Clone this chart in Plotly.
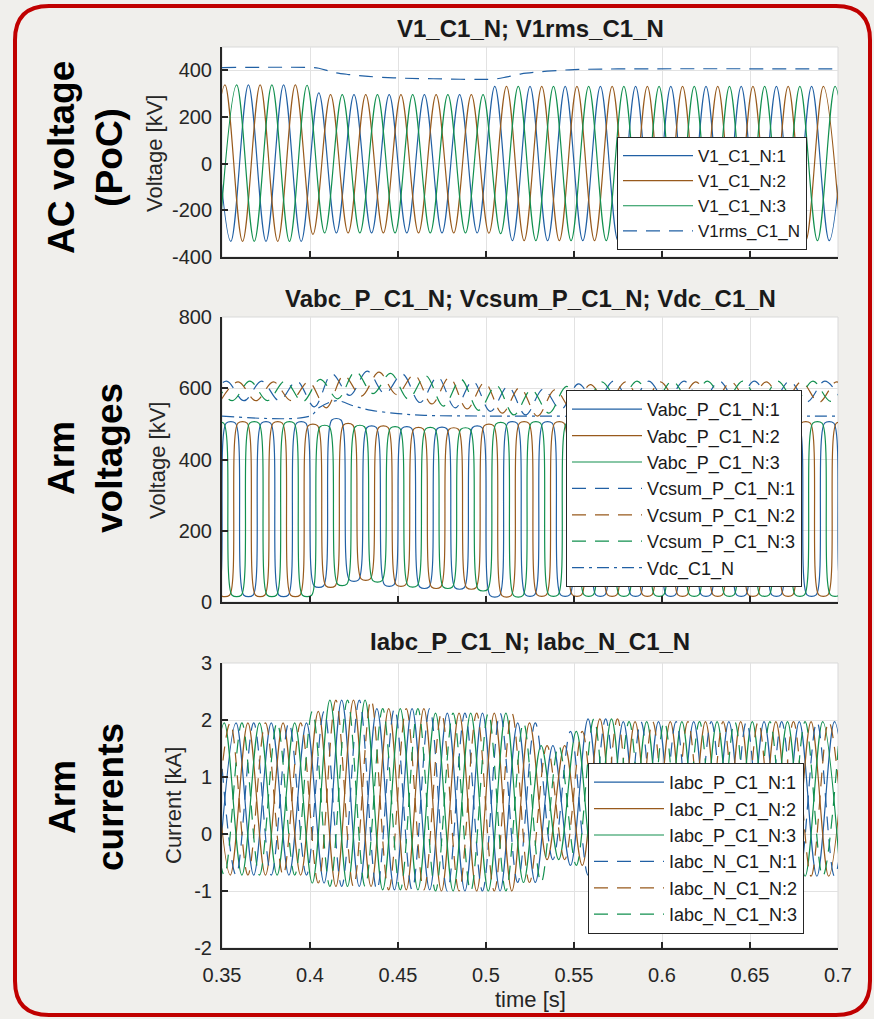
import plotly.graph_objects as go

# ---------------- data ----------------
HALF = 0.01  # half period of the 50 Hz waveforms [s]

# AC voltage at PoC: extremum values, one per half cycle, starting at T0
V1_T0 = [0.345, 0.34167, 0.34833]
V1_1 = [338, -333, 338, -333, 338, -333,
        303, -297, 296, -297, 296, -297, 296, -297, 296, -297,
        331, -330, 331, -330, 331, -330, 331, -330, 331, -330, 331,
        -330, 331, -330, 331, -330, 331, -330, 331, -330, 331]
V1_2 = [-333, 338, -333, 338, -333, 338,
        -303, 296, -297, 296, -297, 296, -297, 296, -297, 296,
        -298, 331, -330, 331, -330, 331, -330, 331, -330, 331, -330,
        331, -330, 331, -330, 331, -330, 331, -330, 331, -330]
V1_3 = [-333, 338, -333, 338, -333, 336,
        -297, 296, -297, 296, -297, 296, -297, 296, -297, 296,
        -300, 331, -330, 331, -330, 331, -330, 331, -330, 331, -330,
        331, -330, 331, -330, 331, -330, 331, -330, 331, -330]
RMS_T = [0.35, 0.40, 0.405, 0.413, 0.422, 0.433, 0.45, 0.47, 0.505, 0.512,
         0.52, 0.528, 0.54, 0.55, 0.575, 0.70]
RMS_V = [412, 412, 409, 392, 382, 374, 367, 364, 363, 372,
         385, 392, 399, 403, 406, 406]

# Arm voltages (upper arm), extremum (plateau) values per half cycle
VABC_T0 = [0.345, 0.34167, 0.34833]
VABC_1 = [19, 502, 19, 502, 19, 502,
          45, 511, 62, 490, 48, 488, 42, 487, 40, 490,
          18, 502, 20, 502, 20, 502, 20, 502, 20, 502, 20,
          502, 20, 502, 20, 502, 20, 502, 20, 502, 20]
VABC_2 = [502, 19, 502, 19, 502, 19,
          495, 45, 497, 65, 490, 48, 486, 42, 485, 40,
          495, 18, 502, 20, 502, 20, 502, 20, 502, 20, 502,
          20, 502, 20, 502, 20, 502, 20, 502, 20, 502]
VABC_3 = [502, 19, 502, 19, 502, 19,
          492, 50, 492, 60, 488, 46, 486, 42, 485, 35,
          500, 18, 502, 20, 502, 20, 502, 20, 502, 20, 502,
          20, 502, 20, 502, 20, 502, 20, 502, 20, 502]
VCSUM_T0 = [0.3425, 0.3492, 0.3458]
VCSUM_1 = [565, 620, 565, 620, 565, 620,
           548, 640, 580, 648, 585, 640, 560, 632, 545, 620,
           535, 605, 525, 598, 540, 612, 560, 620, 562, 620, 562,
           620, 562, 620, 562, 620, 562, 620, 562, 620, 562]
VCSUM_2 = [565, 618, 565, 618, 565, 618,
           545, 636, 578, 645, 582, 638, 556, 630, 542, 616,
           530, 602, 522, 596, 538, 610, 558, 618, 560, 618, 560,
           618, 560, 618, 560, 618, 560, 618, 560, 618, 560]
VCSUM_3 = [620, 565, 620, 565, 620, 562,
           625, 570, 647, 585, 642, 570, 635, 550, 625, 538,
           608, 525, 596, 530, 605, 552, 618, 563, 620, 563, 620,
           563, 620, 563, 620, 563, 620, 563, 620, 563, 620]
VDC_T = [0.35, 0.40, 0.405, 0.415, 0.425, 0.435, 0.45, 0.465, 0.50, 0.70]
VDC_V = [522, 522, 545, 565, 550, 538, 529, 524, 522, 522]

# Arm currents, extremum values per half cycle
IP_T0 = [0.348, 0.3447, 0.3413]
IN_T0 = [0.348, 0.3447, 0.3413]
IP_1 = [-0.72, 1.95, -0.72, 1.95, -0.72, 1.95,
        -0.86, 2.35, -0.92, 2.2, -0.98, 2.2, -0.98, 2.12, -1.0, 2.12,
        -1.0, 1.95, -0.85, 1.55, -0.55, 2.02, -0.72,
        1.97, -0.74, 1.97, -0.74, 1.97, -0.74, 1.97, -0.74, 1.97, -0.74, 1.97, -0.74, 1.97, -0.74]
IP_2 = [1.95, -0.72, 1.95, -0.72, 1.95, -0.72,
        2.15, -0.92, 2.35, -0.92, 2.2, -0.98, 2.2, -1.0, 2.12, -1.0,
        2.12, -1.0, 1.95, -0.45, 1.55, -0.55, 2.02, -0.72,
        1.97, -0.74, 1.97, -0.74, 1.97, -0.74, 1.97, -0.74, 1.97, -0.74, 1.97, -0.74, 1.97]
IP_3 = [-0.72, 1.95, -0.72, 1.95, -0.72, 1.95,
        -0.86, 2.35, -0.92, 2.35, -0.98, 2.2, -0.98, 2.12, -1.0, 2.12,
        -1.0, 2.12, -0.85, 1.55, -0.45, 1.8, -0.72, 2.02,
        -0.74, 1.97, -0.74, 1.97, -0.74, 1.97, -0.74, 1.97, -0.74, 1.97, -0.74, 1.97, -0.74]
IN_1 = [1.95, -0.72, 1.95, -0.72, 1.95, -0.72,
        2.15, -0.92, 2.35, -0.98, 2.2, -0.98, 2.2, -1.0, 2.12, -1.0,
        2.12, -0.85, 1.95, -0.45, 1.8, -0.72, 2.02,
        -0.74, 1.97, -0.74, 1.97, -0.74, 1.97, -0.74, 1.97, -0.74, 1.97, -0.74, 1.97, -0.74, 1.97]
IN_2 = [-0.72, 1.95, -0.72, 1.95, -0.72, 1.95,
        -0.86, 2.35, -0.92, 2.35, -0.98, 2.2, -0.98, 2.12, -1.0, 2.12,
        -1.0, 2.12, -0.85, 1.55, -0.45, 1.8, -0.72, 2.02,
        -0.74, 1.97, -0.74, 1.97, -0.74, 1.97, -0.74, 1.97, -0.74, 1.97, -0.74, 1.97, -0.74]
IN_3 = [1.95, -0.72, 1.95, -0.72, 1.95, -0.72,
        2.15, -0.92, 2.35, -0.92, 2.2, -0.98, 2.2, -1.0, 2.12, -1.0,
        2.12, -1.0, 1.95, -0.85, 1.55, -0.55, 2.02, -0.72,
        1.97, -0.74, 1.97, -0.74, 1.97, -0.74, 1.97, -0.74, 1.97, -0.74, 1.97, -0.74, 1.97]

X_TICKS = [0.35, 0.4, 0.45, 0.5, 0.55, 0.6, 0.65, 0.7]
X_TICKTEXT = ["0.35", "0.4", "0.45", "0.5", "0.55", "0.6", "0.65", "0.7"]
Y1_TICKS = [-400, -200, 0, 200, 400]
Y1_TICKTEXT = ["-400", "-200", "0", "200", "400"]
Y2_TICKS = [0, 200, 400, 600, 800]
Y2_TICKTEXT = ["0", "200", "400", "600", "800"]
Y3_TICKS = [-2, -1, 0, 1, 2, 3]
Y3_TICKTEXT = ["-2", "-1", "0", "1", "2", "3"]

# ---------------- styling ----------------
W, H = 874, 1019
BLUE, BROWN, GREEN = "#2160A4", "#985A1C", "#12904F"
COLS = [BLUE, BROWN, GREEN]
FONT = "Liberation Sans, Arial, Helvetica, sans-serif"
AXC = "#262626"
PLATEAU = 0.0026
DASH = "14px,9px"


def px(x):
    return x / W


def py(y):
    return 1 - y / H


def ext_points(t0, vals, plateau=0.0):
    xs, ys = [], []
    for k, v in enumerate(vals):
        t = t0 + HALF * k
        if plateau:
            xs += [t - plateau, t + plateau]
            ys += [v, v]
        else:
            xs.append(t)
            ys.append(v)
    return xs, ys


fig = go.Figure()

# --- panel 1
for i, (t0, vals) in enumerate(zip(V1_T0, [V1_1, V1_2, V1_3])):
    xs, ys = ext_points(t0, vals)
    fig.add_trace(go.Scatter(x=xs, y=ys, mode="lines", name=f"V1_C1_N:{i+1}",
                             line=dict(color=COLS[i], width=1.2, shape="spline", smoothing=1),
                             xaxis="x", yaxis="y", legend="legend"))
fig.add_trace(go.Scatter(x=RMS_T, y=RMS_V, mode="lines", name="V1rms_C1_N",
                         line=dict(color=BLUE, width=1.2, dash=DASH, shape="spline"),
                         xaxis="x", yaxis="y", legend="legend"))

# --- panel 2
for i, (t0, vals) in enumerate(zip(VABC_T0, [VABC_1, VABC_2, VABC_3])):
    xs, ys = ext_points(t0, vals, PLATEAU)
    fig.add_trace(go.Scatter(x=xs, y=ys, mode="lines", name=f"Vabc_P_C1_N:{i+1}",
                             line=dict(color=COLS[i], width=1.2, shape="spline", smoothing=0.8),
                             xaxis="x2", yaxis="y2", legend="legend2"))
for i, (t0, vals) in enumerate(zip(VCSUM_T0, [VCSUM_1, VCSUM_2, VCSUM_3])):
    xs, ys = ext_points(t0, vals)
    fig.add_trace(go.Scatter(x=xs, y=ys, mode="lines", name=f"Vcsum_P_C1_N:{i+1}",
                             line=dict(color=COLS[i], width=1.2, dash=DASH, shape="spline", smoothing=1),
                             xaxis="x2", yaxis="y2", legend="legend2"))
fig.add_trace(go.Scatter(x=VDC_T, y=VDC_V, mode="lines", name="Vdc_C1_N",
                         line=dict(color=BLUE, width=1.2, dash="12px,5px,3px,5px", shape="spline"),
                         xaxis="x2", yaxis="y2", legend="legend2"))

# --- panel 3
for i, (t0, vals) in enumerate(zip(IP_T0, [IP_1, IP_2, IP_3])):
    xs, ys = ext_points(t0, vals)
    fig.add_trace(go.Scatter(x=xs, y=ys, mode="lines", name=f"Iabc_P_C1_N:{i+1}",
                             line=dict(color=COLS[i], width=1.2, shape="spline", smoothing=1),
                             xaxis="x3", yaxis="y3", legend="legend3"))
for i, (t0, vals) in enumerate(zip(IN_T0, [IN_1, IN_2, IN_3])):
    xs, ys = ext_points(t0, vals)
    fig.add_trace(go.Scatter(x=xs, y=ys, mode="lines", name=f"Iabc_N_C1_N:{i+1}",
                             line=dict(color=COLS[i], width=1.2, dash=DASH, shape="spline", smoothing=1),
                             xaxis="x3", yaxis="y3", legend="legend3"))

# ---------------- axes ----------------
XDOM = [px(222), px(838)]
YDOMS = [[py(257), py(47)], [py(602), py(317)], [py(948), py(663)]]
YRANGES = [[-400, 500], [0, 800], [-2, 3]]
YTICKS = [Y1_TICKS, Y2_TICKS, Y3_TICKS]
YTICKTEXT = [Y1_TICKTEXT, Y2_TICKTEXT, Y3_TICKTEXT]

common = dict(showline=True, linecolor=AXC, linewidth=2, ticks="inside", ticklen=6,
              tickwidth=1.5, tickcolor=AXC, showgrid=True, gridcolor="#E2E2E2", gridwidth=1,
              zeroline=False, automargin=False,
              tickfont=dict(family=FONT, size=20, color=AXC))
layout_axes = {}
for i in range(3):
    sx = "" if i == 0 else str(i + 1)
    layout_axes[f"xaxis{sx}"] = dict(common, domain=XDOM, range=[0.35, 0.7], tickvals=X_TICKS,
                                     ticktext=X_TICKTEXT, showticklabels=(i == 2),
                                     anchor=f"y{sx}", ticklabelstandoff=8)
    layout_axes[f"yaxis{sx}"] = dict(common, domain=YDOMS[i], range=YRANGES[i],
                                     tickvals=YTICKS[i], ticktext=YTICKTEXT[i],
                                     anchor=f"x{sx}", ticklabelstandoff=4)

fig.update_layout(**layout_axes)

# ---------------- decorations ----------------
shapes = []
for i in range(3):
    sx = "" if i == 0 else str(i + 1)
    shapes.append(dict(type="rect", xref=f"x{sx} domain", yref=f"y{sx} domain",
                       x0=0, x1=1, y0=0, y1=1, line=dict(color="#D9D9D9", width=1),
                       layer="below"))
# rounded red frame
x0, x1, y0, y1, r = 15, 870, 6, 1015, 34
path = (f"M {px(x0+r)},{py(y0)} L {px(x1-r)},{py(y0)} Q {px(x1)},{py(y0)} {px(x1)},{py(y0+r)} "
        f"L {px(x1)},{py(y1-r)} Q {px(x1)},{py(y1)} {px(x1-r)},{py(y1)} "
        f"L {px(x0+r)},{py(y1)} Q {px(x0)},{py(y1)} {px(x0)},{py(y1-r)} "
        f"L {px(x0)},{py(y0+r)} Q {px(x0)},{py(y0)} {px(x0+r)},{py(y0)} Z")
shapes.append(dict(type="path", xref="paper", yref="paper", path=path,
                   line=dict(color="#C00000", width=4), layer="above"))

ann = []
titles = [("V1_C1_N; V1rms_C1_N", 28), ("Vabc_P_C1_N; Vcsum_P_C1_N; Vdc_C1_N", 298),
          ("Iabc_P_C1_N; Iabc_N_C1_N", 641)]
for txt, yy in titles:
    ann.append(dict(text=f"<b>{txt}</b>", x=px(530), y=py(yy), xref="paper", yref="paper",
                    showarrow=False, xanchor="center", yanchor="middle",
                    font=dict(family=FONT, size=24, color="#1a1a1a")))
big = [("AC voltage<br>(PoC)", 158), ("Arm<br>voltages", 458), ("Arm<br>currents", 797)]
for txt, yy in big:
    ann.append(dict(text=f"<b>{txt}</b>", x=px(86), y=py(yy), xref="paper", yref="paper",
                    showarrow=False, textangle=-90, xanchor="center", yanchor="middle",
                    font=dict(family=FONT, size=37, color="#000000")))
ytitles = [("Voltage [kV]", 155, 154), ("Voltage [kV]", 157, 461), ("Current [kA]", 173, 806)]
for txt, xx, yy in ytitles:
    ann.append(dict(text=txt, x=px(xx), y=py(yy), xref="paper", yref="paper",
                    showarrow=False, textangle=-90, xanchor="center", yanchor="middle",
                    font=dict(family=FONT, size=22, color=AXC)))
ann.append(dict(text="time [s]", x=px(530), y=py(999), xref="paper", yref="paper",
                showarrow=False, xanchor="center", yanchor="middle",
                font=dict(family=FONT, size=22, color=AXC)))

leg_common = dict(bgcolor="white", bordercolor=AXC, borderwidth=1, xanchor="left",
                  yanchor="top", itemwidth=70, tracegroupgap=0, traceorder="normal")

fig.update_layout(
    width=W, height=H, margin=dict(l=0, r=0, t=0, b=0),
    paper_bgcolor="#F0EFEC", plot_bgcolor="white",
    shapes=shapes, annotations=ann, showlegend=True,
    legend=dict(leg_common, x=px(617), y=py(137),
                font=dict(family=FONT, size=17, color="#1a1a1a")),
    legend2=dict(leg_common, x=px(566), y=py(390),
                 font=dict(family=FONT, size=18, color="#1a1a1a")),
    legend3=dict(leg_common, x=px(588), y=py(763),
                 font=dict(family=FONT, size=18, color="#1a1a1a")),
)

fig.write_html("out.html")
